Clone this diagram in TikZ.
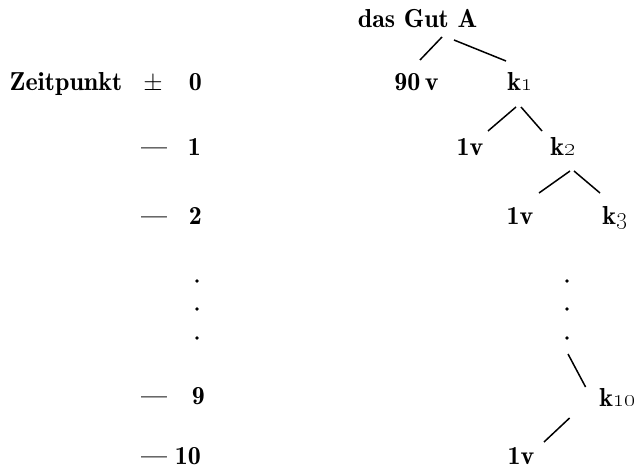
\documentclass[tikz,border=0pt]{standalone}
\usepackage{tikz}
\usetikzlibrary{calc}

\tikzset{
  txt/.style={anchor=base, inner sep=0pt, font=\fontsize{26}{30}\fontseries{b}\selectfont},
  zweig/.style={line width=1.5pt},
  punkt/.style={radius=1.9}
}

\begin{document}
\begin{tikzpicture}[x=1pt,y=1pt,yscale=-1]
    \useasboundingbox (0,0) rectangle (637,470);

    % Text Node
    \node[txt] (gut) at (417.5,28) {das Gut A};
    % Text Node
    \node[txt] (zeit) at (66,91) {Zeitpunkt};
    % Text Node
    \node[txt] (pm) at (153,91) {$\pm$};
    % Text Node
    \node[txt,anchor=base east] (t0) at (202,91) {0};
    % Text Node
    \node[txt] (s1) at (154,156) {---};
    \node[txt,anchor=base east] (t1) at (201,156) {1};
    % Text Node
    \node[txt] (s2) at (154,225) {---};
    \node[txt,anchor=base east] (t2) at (202,225) {2};
    % Text Node
    \node[txt] (s9) at (154,404) {---};
    \node[txt,anchor=base east] (t9) at (205,404) {9};
    % Text Node
    \node[txt] (s10) at (154,464) {---};
    \node[txt,anchor=base east] (t10) at (201,464) {10};

    % Text Node
    \node[txt] (v90) at (416.5,91) {90\,v};
    % Text Node
    \node[txt] (k1) at (520,91) {k\oldstylenums{1}};
    % Text Node
    \node[txt] (lv1) at (470,156) {1v};
    % Text Node
    \node[txt] (k2) at (563,156) {k\oldstylenums{2}};
    % Text Node
    \node[txt] (lv2) at (520,225) {1v};
    % Text Node
    \node[txt] (k3) at (615,225) {k\oldstylenums{3}};
    % Text Node
    \node[txt,anchor=base east] (k10) at (636,406) {k\oldstylenums{10}};
    % Text Node
    \node[txt] (lv10) at (521,464) {1v};

    % Dots
    \foreach \y in {281,309,338} {
        \fill (197,\y) circle[punkt];
        \fill (567,\y) circle[punkt];
    }
    \coordinate (d3) at (567,338);

    %Straight Lines
    \draw[zweig] ($(gut.base)+(24.5,9)$) -- ($(v90.base)+(3.5,-31)$);
    \draw[zweig] ($(gut.base)+(36.5,12)$) -- ($(k1.base)+(-14,-30)$);
    %Straight Lines
    \draw[zweig] ($(k1.base)+(-4,16)$) -- ($(lv1.base)+(18,-25)$);
    \draw[zweig] ($(k1.base)+(1,16)$) -- ($(k2.base)+(-21,-25)$);
    %Straight Lines
    \draw[zweig] ($(k2.base)+(7,15)$) -- ($(lv2.base)+(19,-32)$);
    \draw[zweig] ($(k2.base)+(11,15)$) -- ($(k3.base)+(-15,-32)$);
    %Straight Lines
    \draw[zweig] ($(d3)+(1,16)$) -- ($(k10.base)+(-32,-19)$);
    \draw[zweig] ($(k10.base)+(-48,12)$) -- ($(lv10.base)+(23,-22)$);

\end{tikzpicture}
\end{document}
